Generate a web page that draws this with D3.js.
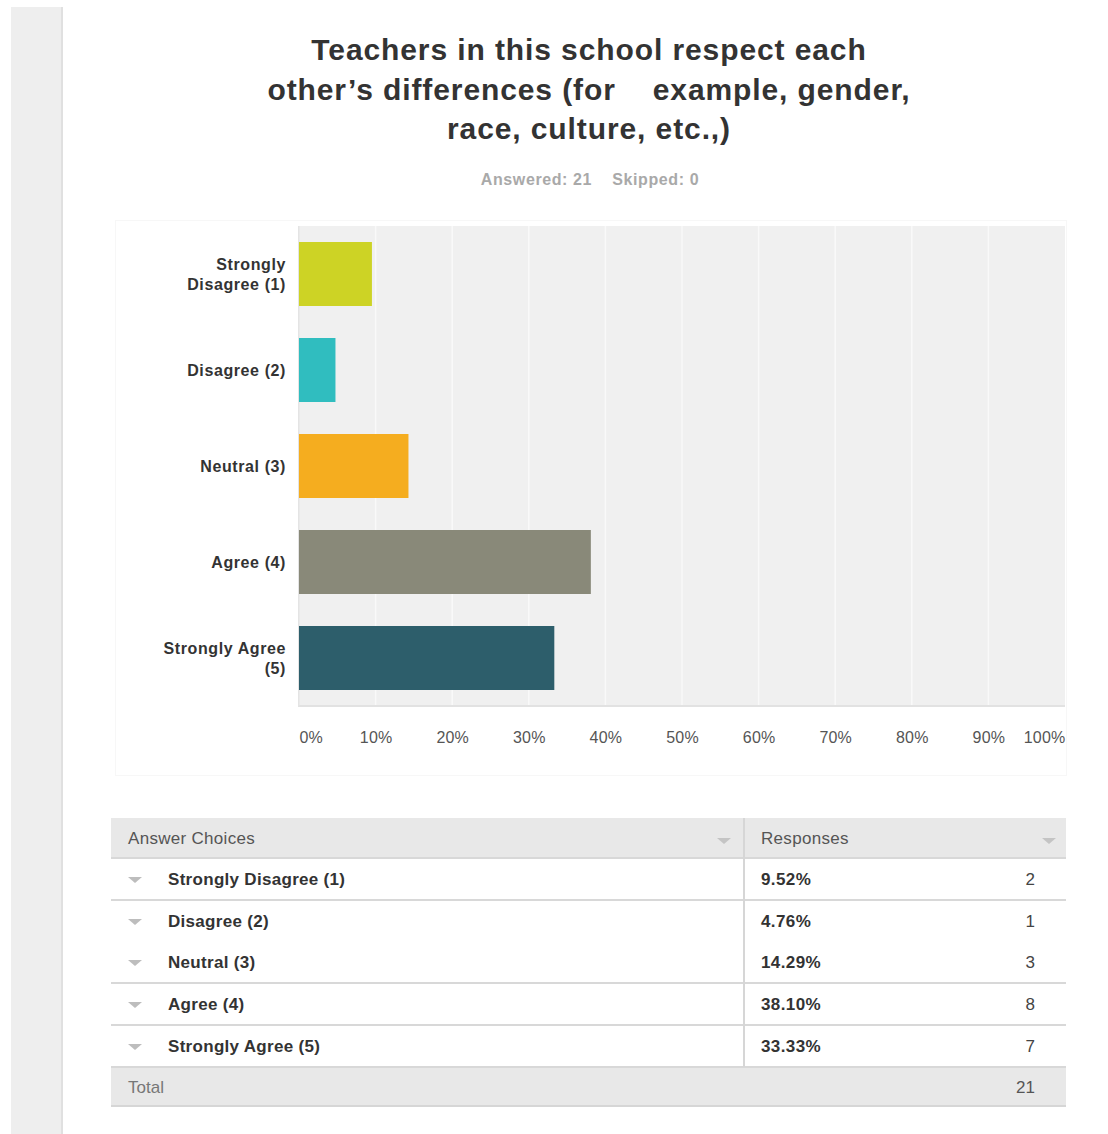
<!DOCTYPE html>
<html>
<head>
<meta charset="utf-8">
<script src="https://cdn.jsdelivr.net/npm/d3@7"></script>
<style>
  html, body { margin: 0; padding: 0; background: #fff; }
  svg { display: block; }
  text { font-family: "Liberation Sans", Arial, Helvetica, sans-serif; }
</style>
</head>
<body>
<svg id="chart" width="1108" height="1134"></svg>
<script>
// Survey question and answer data
const titleLines = [
  "Teachers in this school respect each",
  "other\u2019s differences (for \u00a0\u00a0\u00a0example, gender,",
  "race, culture, etc.,)"
];
const subtitle = "Answered: 21 \u00a0\u00a0\u00a0Skipped: 0";
const categories = ["Strongly Disagree (1)", "Disagree (2)", "Neutral (3)", "Agree (4)", "Strongly Agree (5)"];
const axisLabelLines = [["Strongly", "Disagree (1)"], ["Disagree (2)"], ["Neutral (3)"], ["Agree (4)"], ["Strongly Agree", "(5)"]];
const percents = [9.52, 4.76, 14.29, 38.10, 33.33];
const counts = [2, 1, 3, 8, 7];
const total = 21;
const barColors = ["#cdd325", "#30bdbf", "#f5ad1f", "#898979", "#2d5e6b"];
const tickValues = [0, 10, 20, 30, 40, 50, 60, 70, 80, 90, 100];
// rows whose top edge is drawn in the table (the Neutral row has none)
const rowTopBorder = [true, true, false, true, true];

const svg = d3.select("#chart");

// left side gray strip
svg.append("rect").attr("x", 11).attr("y", 7).attr("width", 51).attr("height", 1127).attr("fill", "#eeeeee");
svg.append("rect").attr("x", 61).attr("y", 7).attr("width", 2).attr("height", 1127).attr("fill", "#e0e0e0");

// title
svg.append("g").selectAll("text").data(titleLines).join("text")
  .attr("x", 589).attr("y", (d, i) => 60 + i * 39.5)
  .attr("text-anchor", "middle")
  .attr("font-size", 30).attr("font-weight", "bold")
  .attr("letter-spacing", 0.9)
  .attr("fill", "#333")
  .text(d => d);

svg.append("text").attr("x", 590).attr("y", 185)
  .attr("text-anchor", "middle").attr("font-size", 16).attr("font-weight", "bold")
  .attr("letter-spacing", 0.6)
  .attr("fill", "#a9a9a9").text(subtitle);

// chart panel
svg.append("rect").attr("x", 115.5).attr("y", 220.5).attr("width", 951).attr("height", 555)
  .attr("fill", "#fff").attr("stroke", "#f7f7f7");

const plot = { left: 298, right: 1065, top: 226, bottom: 706 };

const x = d3.scaleLinear().domain([0, 100]).range([plot.left + 1, plot.right]);
const y = d3.scaleBand().domain(categories).range([plot.top, plot.bottom])
  .paddingInner(1 / 3).paddingOuter(1 / 6);

// plot background with soft bottom edge
svg.append("rect").attr("x", plot.left).attr("y", plot.top)
  .attr("width", plot.right - plot.left).attr("height", plot.bottom - plot.top)
  .attr("fill", "#f0f0f0");
svg.append("rect").attr("x", plot.left).attr("y", plot.bottom - 1)
  .attr("width", plot.right - plot.left).attr("height", 2).attr("fill", "#e2e2e2");
svg.append("rect").attr("x", plot.left).attr("y", plot.top)
  .attr("width", 1.5).attr("height", plot.bottom - plot.top).attr("fill", "#e4e4e4");

// vertical grid
svg.append("g").selectAll("line").data(tickValues.slice(1, -1)).join("line")
  .attr("x1", d => x(d)).attr("x2", d => x(d))
  .attr("y1", plot.top).attr("y2", plot.bottom - 1)
  .attr("stroke", "#f9f9f9").attr("stroke-width", 1.5);

// bars
svg.append("g").selectAll("rect").data(categories).join("rect")
  .attr("x", x(0)).attr("y", d => y(d))
  .attr("width", (d, i) => x(percents[i]) - x(0))
  .attr("height", y.bandwidth())
  .attr("fill", (d, i) => barColors[i]);

// x axis tick labels
const xAxis = d3.axisBottom(x).tickValues(tickValues).tickFormat(d => d + "%").tickSize(0).tickPadding(0);
const xg = svg.append("g").attr("transform", `translate(0, ${plot.bottom + 26})`).call(xAxis);
xg.select(".domain").remove();
xg.selectAll("text")
  .attr("font-size", 16).attr("letter-spacing", 0.2).attr("fill", "#555")
  .attr("text-anchor", (d, i) => i === 0 ? "start" : (i === tickValues.length - 1 ? "end" : "middle"));

// y axis category labels
const yAxis = d3.axisLeft(y).tickSize(0).tickPadding(12).tickFormat(() => "");
const yg = svg.append("g").attr("transform", `translate(${plot.left}, 0)`).call(yAxis);
yg.select(".domain").remove();
yg.selectAll(".tick").each(function (d, i) {
  const lines = axisLabelLines[i];
  const t = d3.select(this).select("text")
    .attr("x", -12).attr("font-size", 16).attr("font-weight", "bold").attr("fill", "#333")
    .attr("letter-spacing", 0.6)
    .attr("text-anchor", "end").attr("dy", null);
  t.selectAll("tspan").data(lines).join("tspan")
    .attr("x", -12)
    .attr("y", (l, j) => (j - (lines.length - 1) / 2) * 20 + 6)
    .text(l => l);
});

// response table
const table = { left: 111, right: 1066, divider: 744, headerTop: 818, headerBottom: 858 };
const rowTops = [858, 900, 941, 983, 1025];
const totalTop = 1067, totalBottom = 1106;

svg.append("rect").attr("x", table.left).attr("y", table.headerTop)
  .attr("width", table.right - table.left).attr("height", table.headerBottom - table.headerTop)
  .attr("fill", "#e8e8e8");
svg.append("rect").attr("x", table.left).attr("y", totalTop)
  .attr("width", table.right - table.left).attr("height", totalBottom - totalTop)
  .attr("fill", "#e8e8e8");
svg.append("line").attr("x1", table.left).attr("x2", table.right)
  .attr("y1", totalBottom).attr("y2", totalBottom).attr("stroke", "#d6d6d6").attr("stroke-width", 2);

const headerY = (table.headerTop + table.headerBottom) / 2 + 6;
svg.append("text").attr("x", 128).attr("y", headerY).attr("font-size", 17).attr("letter-spacing", 0.3)
  .attr("fill", "#555").text("Answer Choices");
svg.append("text").attr("x", 761).attr("y", headerY).attr("font-size", 17).attr("letter-spacing", 0.3)
  .attr("fill", "#555").text("Responses");

const tri = (cx, cy, c) => svg.append("path")
  .attr("d", `M${cx - 7},${cy - 3}L${cx + 7},${cy - 3}L${cx},${cy + 3}Z`).attr("fill", c);
tri(724, 841, "#c4c4c4");
tri(1049, 841, "#c4c4c4");

// row borders
const lineY = [858].concat(rowTops.filter((r, i) => i > 0 && rowTopBorder[i])).concat([1067]);
svg.append("g").selectAll("line").data(lineY).join("line")
  .attr("x1", table.left).attr("x2", table.right)
  .attr("y1", d => d).attr("y2", d => d)
  .attr("stroke", "#d8d8d8").attr("stroke-width", 2);
svg.append("line").attr("x1", table.divider).attr("x2", table.divider)
  .attr("y1", table.headerTop).attr("y2", totalTop)
  .attr("stroke", "#d6d6d6").attr("stroke-width", 2);

const rows = svg.append("g").selectAll("g").data(categories).join("g");
const rowMid = (i) => rowTops[i] + 21;
rows.each(function (d, i) {
  const g = d3.select(this);
  const cy = rowMid(i);
  g.append("path").attr("d", `M${128},${cy - 2}L${142},${cy - 2}L${135},${cy + 4}Z`).attr("fill", "#bdbdbd");
  g.append("text").attr("x", 168).attr("y", cy + 6).attr("font-size", 17).attr("font-weight", "bold")
    .attr("letter-spacing", 0.3).attr("fill", "#333").text(d);
  g.append("text").attr("x", 761).attr("y", cy + 6).attr("font-size", 17).attr("font-weight", "bold")
    .attr("letter-spacing", 0.4).attr("fill", "#333").text(percents[i].toFixed(2) + "%");
  g.append("text").attr("x", 1035).attr("y", cy + 6).attr("font-size", 17).attr("text-anchor", "end")
    .attr("fill", "#444").text(counts[i]);
});

svg.append("text").attr("x", 128).attr("y", (totalTop + totalBottom) / 2 + 6)
  .attr("font-size", 17).attr("fill", "#777").text("Total");
svg.append("text").attr("x", 1035).attr("y", (totalTop + totalBottom) / 2 + 6)
  .attr("font-size", 17).attr("fill", "#555").attr("text-anchor", "end").text(total);
</script>
</body>
</html>
